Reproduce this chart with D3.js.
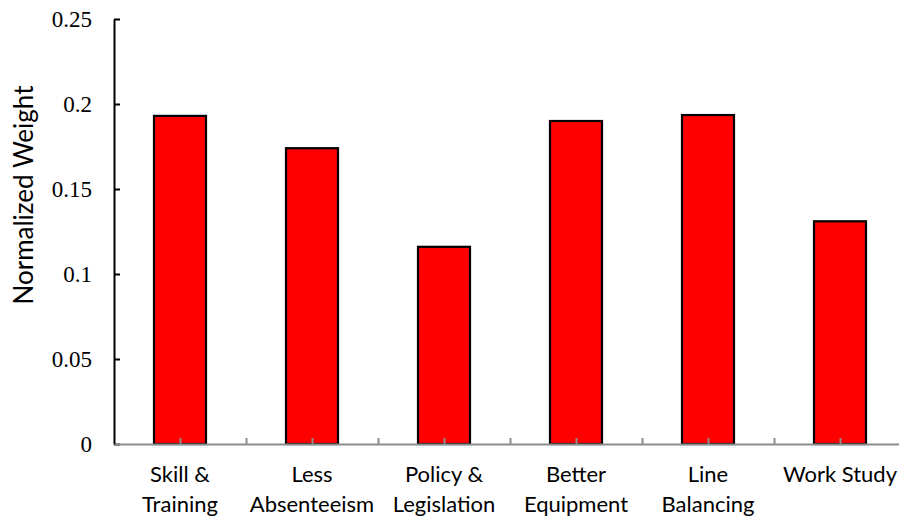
<!DOCTYPE html>
<html>
<head>
<meta charset="utf-8">
<script src="https://cdn.jsdelivr.net/npm/d3@7"></script>
<style>
  html, body { margin: 0; padding: 0; background: #fff; }
  svg { display: block; }
</style>
</head>
<body>
<svg id="chart" width="899" height="519"></svg>
<script>
// Normalized weights of productivity improvement factors
const categories = [
  ["Skill &", "Training"],
  ["Less", "Absenteeism"],
  ["Policy &", "Legislation"],
  ["Better", "Equipment"],
  ["Line", "Balancing"],
  ["Work Study"]
];
const weights = [0.193, 0.174, 0.116, 0.190, 0.1935, 0.131];
const yTicks = [0, 0.05, 0.1, 0.15, 0.2, 0.25];
const yTickLabels = ["0", "0.05", "0.1", "0.15", "0.2", "0.25"];
const yTitle = "Normalized Weight";

const svg = d3.select("#chart");
const plotLeft = 114, plotTop = 19, plotBottom = 444;
const band = 132;

const x = d3.scaleBand()
  .domain(d3.range(categories.length))
  .range([plotLeft, plotLeft + band * categories.length])
  .paddingInner(0).paddingOuter(0);

const y = d3.scaleLinear().domain([0, 0.25]).range([plotBottom, plotTop]);

const barW = 52;

// bars
svg.append("g").selectAll("rect")
  .data(weights)
  .join("rect")
  .attr("x", (d, i) => x(i) + x.bandwidth() / 2 - barW / 2)
  .attr("y", d => y(d))
  .attr("width", barW)
  .attr("height", d => y(0) - y(d))
  .attr("fill", "#ff0000")
  .attr("stroke", "#000")
  .attr("stroke-width", 2.2);

// y axis: ticks point into the plot
const yAxis = d3.axisRight(y)
  .tickValues(yTicks)
  .tickSize(6)
  .tickSizeOuter(0)
  .tickFormat("");
const gy = svg.append("g")
  .attr("transform", `translate(${plotLeft},0)`)
  .call(yAxis);
gy.select(".domain").attr("stroke", "#000").attr("stroke-width", 2);
gy.selectAll(".tick line").attr("stroke", "#000").attr("stroke-width", 2);

svg.append("g").selectAll("text")
  .data(yTicks)
  .join("text")
  .attr("x", plotLeft - 22)
  .attr("y", d => y(d))
  .attr("dy", "0.35em")
  .attr("text-anchor", "end")
  .attr("font-family", "'Liberation Serif', 'Times New Roman', serif")
  .attr("font-size", 23)
  .attr("fill", "#000")
  .text((d, i) => yTickLabels[i]);

// x axis: gray line with upward ticks at centres and band edges
const xEdge = d3.scaleLinear().domain([0, categories.length]).range([plotLeft, plotLeft + band * categories.length]);
const xTickVals = d3.range(1, categories.length * 2 + 1).map(k => k / 2);
const gx = svg.append("g")
  .attr("transform", `translate(0,${plotBottom})`)
  .call(d3.axisTop(xEdge).tickValues(xTickVals).tickSize(6).tickFormat("").tickSizeOuter(0));
gx.select(".domain").attr("stroke", "#8c8c8c").attr("stroke-width", 2);
gx.selectAll(".tick line").attr("stroke", "#8c8c8c").attr("stroke-width", 2);

// category labels
const labels = svg.append("g")
  .attr("font-family", "Lato, 'Open Sans', sans-serif")
  .attr("font-size", 22)
  .attr("fill", "#000")
  .attr("text-anchor", "middle");
categories.forEach((lines, i) => {
  const cx = x(i) + x.bandwidth() / 2;
  const t = labels.append("text")
    .attr("x", cx)
    .attr("y", 482);
  lines.forEach((ln, j) => {
    t.append("tspan")
      .attr("x", cx)
      .attr("dy", j === 0 ? 0 : 30)
      .text(ln);
  });
});

// y axis title
svg.append("text")
  .attr("transform", `translate(33,195) rotate(-90)`)
  .attr("text-anchor", "middle")
  .attr("font-family", "Lato, 'Open Sans', sans-serif")
  .attr("font-size", 26)
  .attr("fill", "#000")
  .text(yTitle);
</script>
</body>
</html>
